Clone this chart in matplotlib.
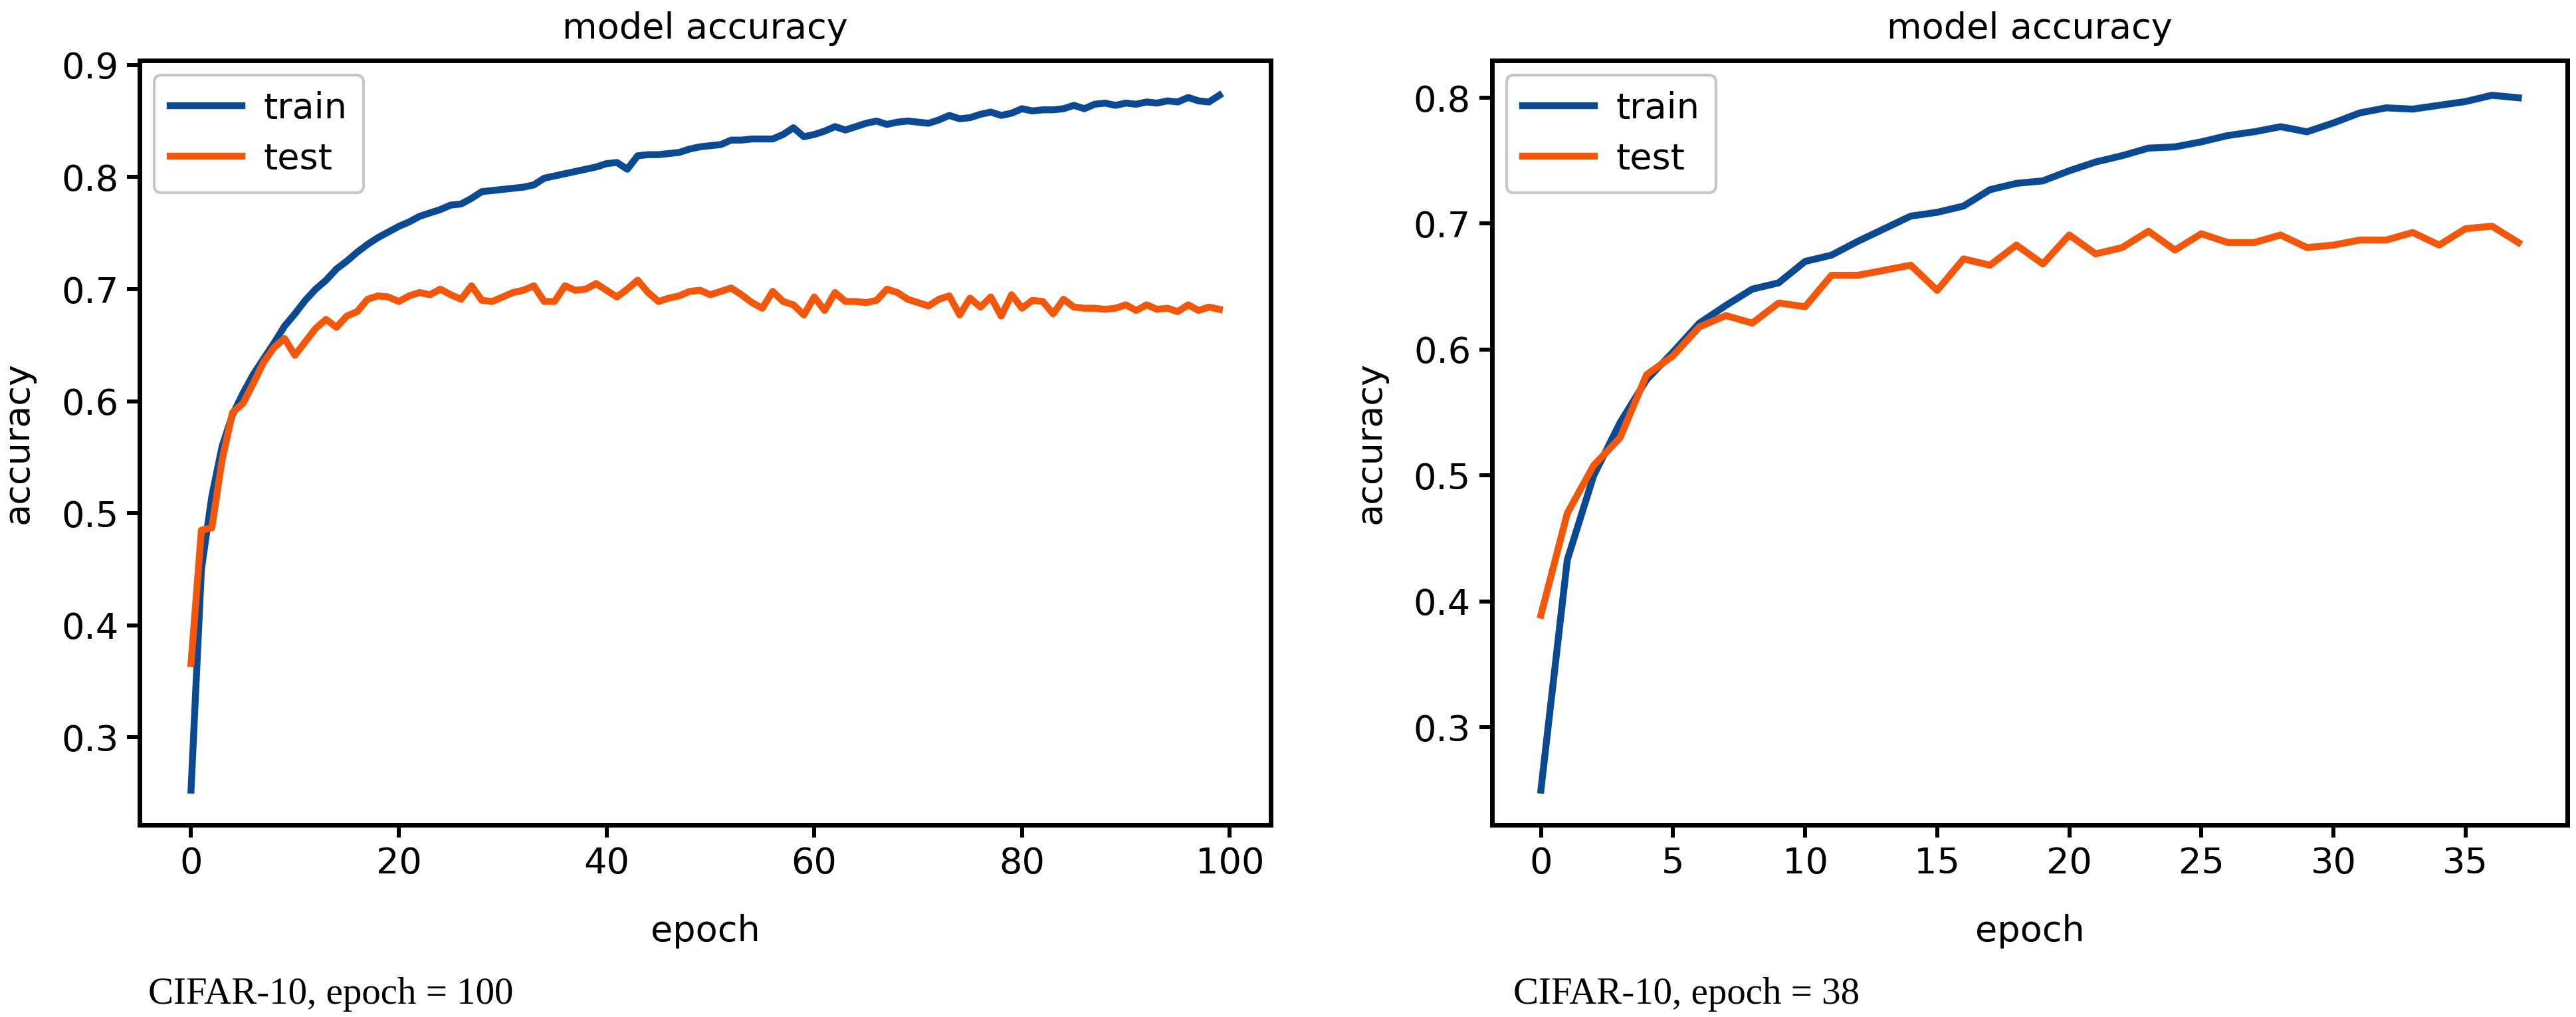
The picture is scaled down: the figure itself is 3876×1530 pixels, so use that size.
import matplotlib
matplotlib.use("Agg")
import matplotlib.pyplot as plt

# accuracy per epoch
epochs_100 = list(range(100))
train_100 = [0.253, 0.450, 0.515, 0.560, 0.588, 0.607, 0.624, 0.638, 0.652, 0.667,
             0.678, 0.690, 0.700, 0.708, 0.718, 0.725, 0.733, 0.740, 0.746, 0.751,
             0.756, 0.760, 0.765, 0.768, 0.771, 0.775, 0.776, 0.781, 0.787, 0.788,
             0.789, 0.790, 0.791, 0.793, 0.799, 0.801, 0.803, 0.805, 0.807, 0.809,
             0.812, 0.813, 0.807, 0.819, 0.820, 0.820, 0.821, 0.822, 0.825, 0.827,
             0.828, 0.829, 0.833, 0.833, 0.834, 0.834, 0.834, 0.838, 0.844, 0.836,
             0.838, 0.841, 0.845, 0.842, 0.845, 0.848, 0.850, 0.847, 0.849, 0.850,
             0.849, 0.848, 0.851, 0.855, 0.852, 0.853, 0.856, 0.858, 0.855, 0.857,
             0.861, 0.859, 0.860, 0.860, 0.861, 0.864, 0.861, 0.865, 0.866, 0.864,
             0.866, 0.865, 0.867, 0.866, 0.868, 0.867, 0.871, 0.868, 0.867, 0.873]
test_100 = [0.366, 0.485, 0.487, 0.548, 0.590, 0.598, 0.616, 0.635, 0.648, 0.656,
            0.641, 0.653, 0.665, 0.673, 0.666, 0.676, 0.680, 0.691, 0.694, 0.693,
            0.689, 0.694, 0.697, 0.695, 0.700, 0.695, 0.691, 0.703, 0.690, 0.689,
            0.693, 0.697, 0.699, 0.703, 0.689, 0.689, 0.703, 0.699, 0.700, 0.705,
            0.699, 0.693, 0.700, 0.708, 0.697, 0.689, 0.692, 0.694, 0.698, 0.699,
            0.695, 0.698, 0.701, 0.695, 0.688, 0.683, 0.698, 0.689, 0.686, 0.677,
            0.693, 0.681, 0.697, 0.689, 0.689, 0.688, 0.690, 0.700, 0.697, 0.691,
            0.688, 0.685, 0.691, 0.694, 0.677, 0.692, 0.684, 0.693, 0.676, 0.695,
            0.683, 0.690, 0.689, 0.678, 0.691, 0.684, 0.683, 0.683, 0.682, 0.683,
            0.686, 0.681, 0.686, 0.682, 0.683, 0.680, 0.686, 0.681, 0.684, 0.682]

epochs_38 = list(range(38))
train_38 = [0.250, 0.433, 0.500, 0.542, 0.576, 0.598, 0.621, 0.635, 0.648, 0.653,
            0.670, 0.675, 0.686, 0.696, 0.706, 0.709, 0.714, 0.727, 0.732, 0.734,
            0.742, 0.749, 0.754, 0.760, 0.761, 0.765, 0.770, 0.773, 0.777, 0.773,
            0.780, 0.788, 0.792, 0.791, 0.794, 0.797, 0.802, 0.800]
test_38 = [0.389, 0.470, 0.508, 0.530, 0.580, 0.595, 0.618, 0.627, 0.621, 0.637,
           0.634, 0.659, 0.659, 0.663, 0.667, 0.647, 0.672, 0.667, 0.683, 0.668,
           0.691, 0.676, 0.681, 0.694, 0.679, 0.692, 0.685, 0.685, 0.691, 0.681,
           0.683, 0.687, 0.687, 0.693, 0.683, 0.696, 0.698, 0.685]

captions = ["CIFAR-10, epoch = 100", "CIFAR-10, epoch = 38"]

plt.rcParams["font.family"] = ["DejaVu Sans"]
fs = 39

blue = "#0b4a92"
orange = "#f2570c"

fig = plt.figure(figsize=(38.76, 15.30), dpi=100)
ax1 = fig.add_axes([0.0542, 0.1889, 0.4391, 0.7516])
ax2 = fig.add_axes([0.5792, 0.1889, 0.4174, 0.7516])

panels = [(ax1, epochs_100, train_100, test_100), (ax2, epochs_38, train_38, test_38)]
for ax, ep, tr, te in panels:
    ax.plot(ep, tr, color=blue, lw=7.5, label="train")
    ax.plot(ep, te, color=orange, lw=7.5, label="test")
    ax.set_title("model accuracy", fontsize=fs, pad=24)
    ax.set_xlabel("epoch", fontsize=fs, labelpad=36)
    ax.set_ylabel("accuracy", fontsize=fs, labelpad=28)
    ax.tick_params(labelsize=fs, length=14, width=4.3, pad=9)
    for s in ax.spines.values():
        s.set_linewidth(5)
    leg = ax.legend(loc="upper left", fontsize=fs, handlelength=2.0,
                    handletextpad=0.6, borderpad=0.45, labelspacing=0.45,
                    borderaxespad=0.4, fancybox=True)
    leg.get_frame().set_edgecolor("0.72")
    leg.get_frame().set_linewidth(3)

ax1.set_yticks([0.3, 0.4, 0.5, 0.6, 0.7, 0.8, 0.9])
ax2.set_xticks([0, 5, 10, 15, 20, 25, 30, 35])

fig.text(0.0575, 0.013, captions[0], fontsize=41, family="Liberation Serif")
fig.text(0.5875, 0.013, captions[1], fontsize=41, family="Liberation Serif")

fig.savefig("out.png", dpi=100)
